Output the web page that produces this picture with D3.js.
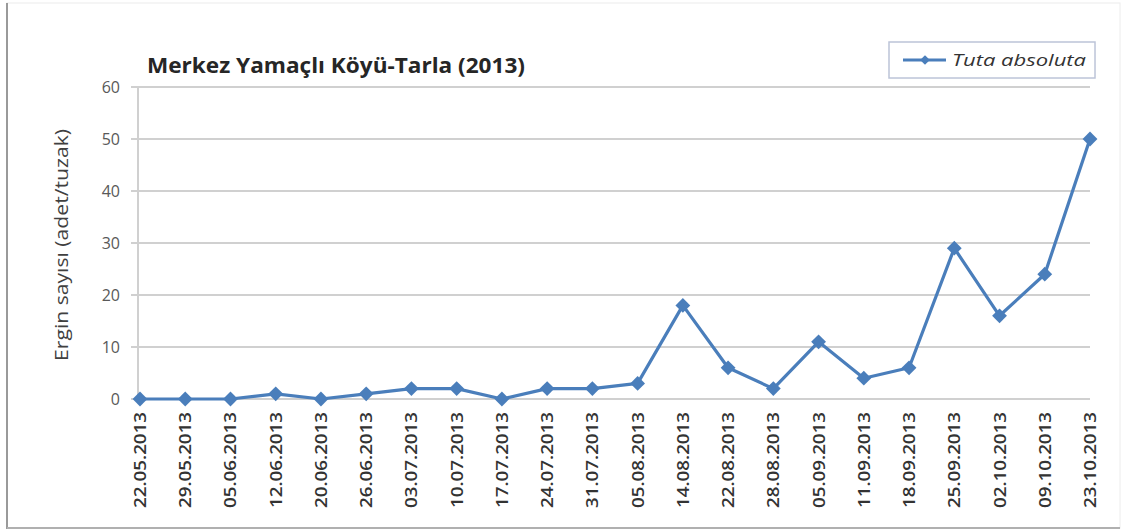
<!DOCTYPE html>
<html>
<head>
<meta charset="utf-8">
<script src="https://cdn.jsdelivr.net/npm/d3@7"></script>
<style>
  body { margin: 0; background: #fff; }
  svg { font-family: "Open Sans", "Noto Sans", sans-serif; }
</style>
</head>
<body>
<div id="chart"></div>
<script>
const dates = ["22.05.2013", "29.05.2013", "05.06.2013", "12.06.2013", "20.06.2013", "26.06.2013",
  "03.07.2013", "10.07.2013", "17.07.2013", "24.07.2013", "31.07.2013", "05.08.2013",
  "14.08.2013", "22.08.2013", "28.08.2013", "05.09.2013", "11.09.2013", "18.09.2013",
  "25.09.2013", "02.10.2013", "09.10.2013", "23.10.2013"];
const tutaAbsoluta = [0, 0, 0, 1, 0, 1, 2, 2, 0, 2, 2, 3, 18, 6, 2, 11, 4, 6, 29, 16, 24, 50];
const yTicks = [0, 10, 20, 30, 40, 50, 60];

const W = 1126, H = 531;
const plotLeft = 140, plotRight = 1090, plotTop = 87, plotBottom = 399;
const blue = "#4a7ebb";

const svg = d3.select("#chart").append("svg")
  .attr("width", W).attr("height", H);

// outer frame
svg.append("rect").attr("x", 7).attr("y", 3).attr("width", 1113).attr("height", 525)
  .attr("fill", "none").attr("stroke", "#ececec").attr("stroke-width", 1);
svg.append("line").attr("x1", 7).attr("x2", 7).attr("y1", 3).attr("y2", 529)
  .attr("stroke", "#9a9a9a").attr("stroke-width", 2);
svg.append("line").attr("x1", 7).attr("x2", 1120).attr("y1", 528).attr("y2", 528)
  .attr("stroke", "#b0b0b0").attr("stroke-width", 2);

const x = d3.scalePoint().domain(dates).range([plotLeft, plotRight]);
const y = d3.scaleLinear().domain([0, 60]).range([plotBottom, plotTop]);

// gridlines
svg.append("g").selectAll("line").data(yTicks).enter().append("line")
  .attr("x1", plotLeft - 9).attr("x2", plotRight)
  .attr("y1", d => y(d)).attr("y2", d => y(d))
  .attr("stroke", "#d0d0d0").attr("stroke-width", 2);

// y axis line
svg.append("line").attr("x1", plotLeft - 2).attr("x2", plotLeft - 2)
  .attr("y1", plotTop).attr("y2", plotBottom)
  .attr("stroke", "#d0d0d0").attr("stroke-width", 2);

// y tick labels
svg.append("g").selectAll("text").data(yTicks).enter().append("text")
  .attr("x", 120).attr("y", d => y(d)).attr("dy", "0.36em")
  .attr("text-anchor", "end").attr("font-size", 16).attr("fill", "#595959")
  .text(d => d);

// x tick labels
svg.append("g").selectAll("text").data(dates).enter().append("text")
  .attr("transform", d => `translate(${x(d) + 6},412) rotate(-90)`)
  .attr("text-anchor", "end").attr("font-size", 16.5).attr("font-weight", 600)
  .attr("textLength", 96).attr("lengthAdjust", "spacingAndGlyphs")
  .attr("fill", "#333").text(d => d);

// y axis title
svg.append("text")
  .attr("transform", "translate(68,245) rotate(-90)")
  .attr("text-anchor", "middle").attr("font-size", 18).attr("fill", "#404040")
  .attr("textLength", 232).attr("lengthAdjust", "spacingAndGlyphs")
  .text("Ergin sayısı (adet/tuzak)");

// title
svg.append("text").attr("x", 147).attr("y", 73)
  .attr("font-size", 21).attr("font-weight", "bold").attr("fill", "#262626")
  .attr("textLength", 378).attr("lengthAdjust", "spacingAndGlyphs")
  .text("Merkez Yamaçlı Köyü-Tarla (2013)");

// series
const line = d3.line().x((d, i) => x(dates[i])).y(d => y(d));
svg.append("path").datum(tutaAbsoluta)
  .attr("d", line).attr("fill", "none")
  .attr("stroke", blue).attr("stroke-width", 3.2).attr("stroke-linejoin", "round");

const diamond = d3.symbol().type(d3.symbolDiamond2).size(140);
svg.append("g").selectAll("path").data(tutaAbsoluta).enter().append("path")
  .attr("d", diamond)
  .attr("transform", (d, i) => `translate(${x(dates[i])},${y(d)})`)
  .attr("fill", blue);

// legend
const legend = svg.append("g").attr("transform", "translate(889,42)");
legend.append("rect").attr("width", 206).attr("height", 36)
  .attr("fill", "#fff").attr("stroke", "#bcc4d8").attr("stroke-width", 1.5);
legend.append("line").attr("x1", 14).attr("x2", 57).attr("y1", 18).attr("y2", 18)
  .attr("stroke", blue).attr("stroke-width", 3);
legend.append("path").attr("d", d3.symbol().type(d3.symbolDiamond2).size(60))
  .attr("transform", "translate(36,18)").attr("fill", blue);
legend.append("text").attr("x", 63).attr("y", 18).attr("dy", "0.36em")
  .attr("font-size", 17).attr("font-style", "italic").attr("fill", "#333")
  .attr("textLength", 134).attr("lengthAdjust", "spacingAndGlyphs")
  .text("Tuta absoluta");
</script>
</body>
</html>
